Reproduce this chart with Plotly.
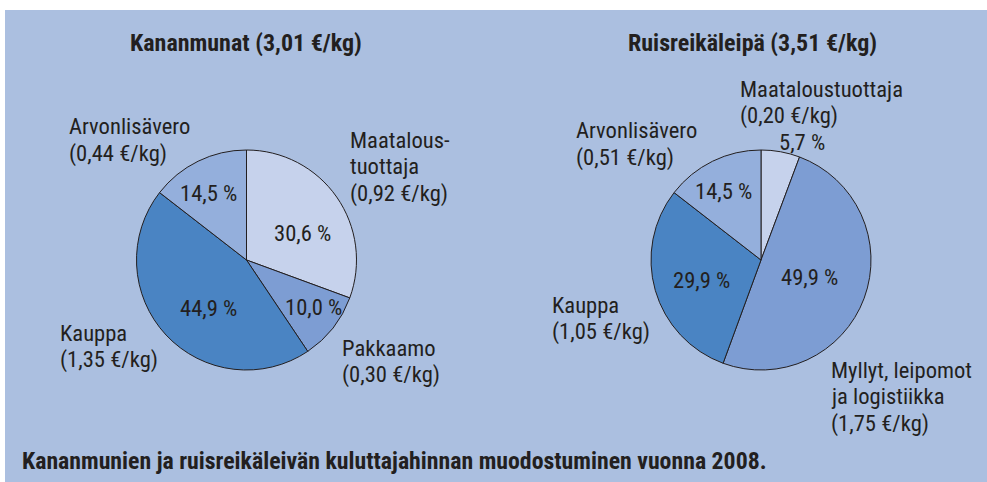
import plotly.graph_objects as go

W, H = 987, 482

# ---- data ----
egg_title = "Kananmunat (3,01 €/kg)"
egg_labels = ["Maatalous-<br>tuottaja", "Pakkaamo", "Kauppa", "Arvonlisävero"]
egg_prices = ["0,92", "0,30", "1,35", "0,44"]
egg_pct = [30.6, 10.0, 44.9, 14.5]

bread_title = "Ruisreikäleipä (3,51 €/kg)"
bread_labels = ["Maataloustuottaja", "Myllyt, leipomot<br>ja logistiikka", "Kauppa", "Arvonlisävero"]
bread_prices = ["0,20", "1,75", "1,05", "0,51"]
bread_pct = [5.7, 49.9, 29.9, 14.5]

footer = "Kananmunien ja ruisreikäleivän kuluttajahinnan muodostuminen vuonna 2008."

# ---- style ----
BG = "#abbfe0"
TXT = "#231f20"
egg_colors = ["#c6d2ec", "#7d9dd3", "#4a84c3", "#94afdc"]
bread_colors = ["#c6d2ec", "#7d9dd3", "#4a84c3", "#94afdc"]
FONT = "Roboto Condensed, Liberation Sans Narrow, Arial Narrow, sans-serif"


def px(x):
    return x / W


def py(y):
    return 1 - y / H


def pie_domain(cx, cy, r):
    return dict(x=[px(cx - r), px(cx + r)], y=[py(cy + r), py(cy - r)])


def fmt_pct(v):
    return f"{v:.1f}".replace(".", ",") + " %"


fig = go.Figure()
for pct, cols, labs, dom in [
    (egg_pct, egg_colors, egg_labels, pie_domain(246.5, 260, 110)),
    (bread_pct, bread_colors, bread_labels, pie_domain(761, 260, 110)),
]:
    fig.add_trace(go.Pie(
        values=pct, labels=[l.replace("<br>", " ") for l in labs],
        sort=False, direction="clockwise", rotation=0,
        marker=dict(colors=cols, line=dict(color=TXT, width=1)),
        textinfo="none", hoverinfo="label+percent", showlegend=False,
        domain=dom,
    ))

ann = []


def text(x, y, s, size=22.6, anchor="left", bold=False):
    ann.append(dict(
        x=px(x), y=py(y), xref="paper", yref="paper", text=(f"<b>{s}</b>" if bold else s),
        showarrow=False, xanchor=anchor, yanchor="middle",
        font=dict(family=FONT, size=size, color=TXT),
    ))


# titles
text(246, 43, egg_title, size=24, anchor="center", bold=True)
text(752, 43, bread_title, size=24, anchor="center", bold=True)

# percentage labels (positions per slice)
egg_pct_pos = [(302, 233), (313, 307), (208, 308), (208, 193)]
bread_pct_pos = [(802, 142), (809, 277), (701, 280), (723, 192)]
for vals, pos in [(egg_pct, egg_pct_pos), (bread_pct, bread_pct_pos)]:
    for v, (x, y) in zip(vals, pos):
        text(x, y, fmt_pct(v), anchor="center")

# category labels (left-aligned, per line)
egg_lab_pos = [(348, 140), (340, 348), (58, 333), (67, 127)]
bread_lab_pos = [(738, 89), (829, 370), (550, 305), (574, 131)]
for labs, prices, pos in [(egg_labels, egg_prices, egg_lab_pos),
                          (bread_labels, bread_prices, bread_lab_pos)]:
    for lab, pr, (x, y) in zip(labs, prices, pos):
        lines = lab.split("<br>") + [f"({pr} €/kg)"]
        for i, ln in enumerate(lines):
            text(x, y + i * 26.5, ln)

# footer
text(20, 461, footer, size=23.8, bold=True)

fig.update_layout(
    width=W, height=H,
    margin=dict(l=0, r=0, t=0, b=0),
    paper_bgcolor="white",
    plot_bgcolor="white",
    shapes=[dict(type="rect", xref="paper", yref="paper", x0=px(5), x1=1, y0=0, y1=py(10),
                 fillcolor=BG, line=dict(width=0), layer="below")],
    annotations=ann,
)

fig.write_html("out.html", config={"displayModeBar": False},
               post_script="document.body.style.margin='0';document.body.style.overflow='hidden';")
